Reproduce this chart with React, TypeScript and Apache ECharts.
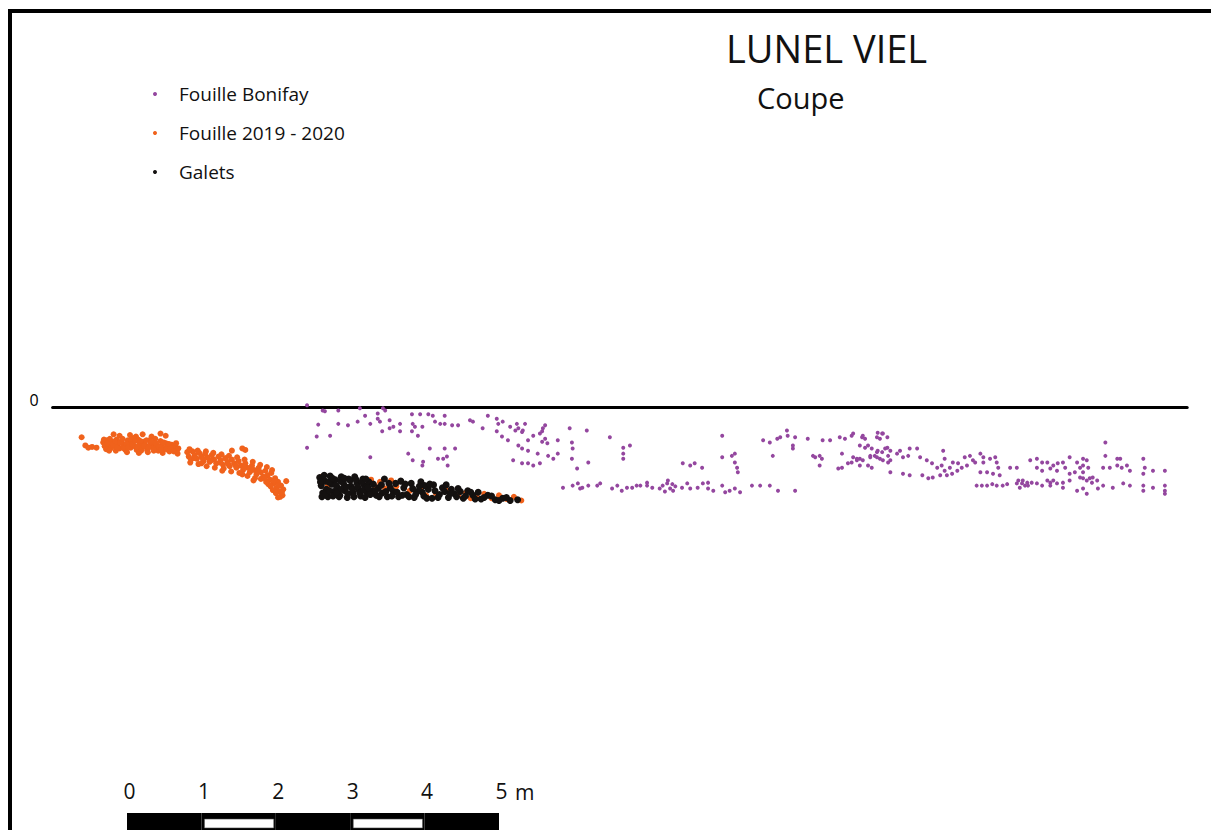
import React, { useEffect, useRef } from "react";
import * as echarts from "echarts";

const FONT = "'Open Sans', 'Noto Sans', sans-serif";

const seriesNames = ["Fouille Bonifay", "Fouille 2019 - 2020", "Galets"];
const seriesColors = ["#94479f", "#f0621c", "#141110"];

// x: horizontal distance (m), y: depth relative to datum 0 (m)
const bonifay: number[][] = [
  [2.42, 0.03], [2.66, -0.05], [2.84, -0.04], [2.63, -0.04], [3.13, -0.01], [3.47, -0.04],
  [2.57, -0.23], [2.84, -0.22], [2.97, -0.24], [3.10, -0.19], [3.20, -0.11], [3.27, -0.22],
  [3.37, -0.15], [3.40, -0.19], [3.37, -0.08], [3.44, -0.01], [3.53, -0.17], [3.53, -0.28],
  [3.58, -0.26], [3.43, -0.32], [3.67, -0.22], [3.67, -0.32], [3.83, -0.09], [3.94, -0.09],
  [4.05, -0.09], [4.11, -0.11], [4.27, -0.11], [3.84, -0.22], [3.87, -0.26], [3.97, -0.26],
  [3.83, -0.32], [3.91, -0.38], [4.14, -0.19], [4.21, -0.22], [4.27, -0.22], [4.37, -0.24],
  [4.45, -0.24], [2.55, -0.39], [2.73, -0.38], [2.42, -0.54], [3.27, -0.67], [3.78, -0.62],
  [3.84, -0.71], [3.98, -0.73], [4.07, -0.55], [3.97, -0.78], [4.18, -0.69], [4.25, -0.69],
  [4.30, -0.66], [4.27, -0.55], [4.41, -0.55], [4.31, -0.78], [4.61, -0.17], [4.65, -0.19],
  [4.78, -0.28], [4.85, -0.11], [4.97, -0.15], [5.05, -0.19], [4.99, -0.22], [4.97, -0.32],
  [5.04, -0.39], [5.12, -0.44], [5.15, -0.26], [5.22, -0.31], [5.26, -0.28], [5.35, -0.22],
  [5.24, -0.22], [5.32, -0.31], [5.31, -0.33], [5.26, -0.51], [5.31, -0.55], [5.39, -0.58],
  [5.39, -0.44], [5.46, -0.38], [5.55, -0.35], [5.59, -0.28], [5.62, -0.24], [5.58, -0.32],
  [5.58, -0.46], [5.62, -0.42], [5.65, -0.48], [5.19, -0.71], [5.31, -0.75], [5.39, -0.75],
  [5.46, -0.78], [5.55, -0.75], [5.52, -0.62], [5.66, -0.65], [5.73, -0.69], [5.79, -0.62],
  [5.79, -0.44], [5.86, -1.08], [5.99, -1.05], [6.09, -1.09], [5.95, -0.28], [6.18, -0.31],
  [5.98, -0.47], [6.05, -0.82], [5.99, -0.55], [5.98, -0.69], [6.20, -0.74], [6.49, -0.40],
  [6.67, -0.54], [6.76, -0.51], [6.67, -0.62], [6.67, -0.69], [6.06, -1.02], [6.12, -1.08],
  [6.20, -1.05], [6.32, -1.05], [6.36, -1.02], [6.52, -1.09], [6.59, -1.05], [6.65, -1.12],
  [6.72, -1.08], [6.79, -1.08], [6.85, -1.05], [6.90, -1.05], [6.99, -1.01], [6.99, -1.05],
  [7.06, -1.08], [7.16, -1.09], [7.20, -1.05], [7.26, -1.02], [7.30, -1.09], [7.34, -1.12],
  [7.23, -1.13], [7.37, -1.06], [7.27, -0.98], [7.33, -1.03], [7.46, -1.08], [7.53, -1.02],
  [7.57, -1.09], [7.67, -1.08], [7.74, -1.02], [7.81, -1.01], [7.81, -1.09], [7.88, -1.12],
  [8.00, -1.05], [8.04, -1.14], [8.10, -1.12], [8.17, -1.09], [8.24, -1.14], [8.40, -1.05],
  [8.51, -1.05], [8.64, -1.05], [8.75, -1.12], [8.98, -1.12], [7.47, -0.75], [7.57, -0.78],
  [7.63, -0.75], [7.73, -0.81], [8.00, -0.67], [8.13, -0.65], [8.17, -0.62], [8.17, -0.74],
  [8.20, -0.81], [8.21, -0.87], [8.00, -0.38], [8.55, -0.44], [8.64, -0.47], [8.74, -0.42],
  [8.78, -0.40], [8.87, -0.31], [8.88, -0.38], [8.98, -0.40], [8.95, -0.51], [8.95, -0.55],
  [8.68, -0.65], [9.15, -0.42], [9.35, -0.44], [9.45, -0.44], [9.58, -0.40], [9.65, -0.42],
  [9.74, -0.38], [9.76, -0.35], [9.88, -0.40], [9.92, -0.42], [10.08, -0.40], [10.12, -0.42],
  [10.15, -0.35], [10.22, -0.40], [9.22, -0.65], [9.25, -0.67], [9.31, -0.65], [9.34, -0.69],
  [9.31, -0.78], [9.61, -0.62], [9.76, -0.67], [9.85, -0.69], [9.56, -0.82], [9.61, -0.81],
  [9.69, -0.75], [9.74, -0.74], [9.81, -0.71], [9.85, -0.78], [9.96, -0.51], [10.01, -0.55],
  [10.09, -0.58], [10.05, -0.65], [10.15, -0.60], [10.19, -0.55], [10.23, -0.65], [9.99, -0.65],
  [10.12, -0.69], [10.26, -0.71], [9.96, -0.78], [10.01, -0.81], [9.89, -0.38], [10.09, -0.34],
  [10.16, -0.35], [9.85, -0.51], [9.92, -0.54], [10.08, -0.60], [10.22, -0.54], [10.26, -0.58],
  [10.35, -0.62], [10.39, -0.58], [9.81, -0.69], [9.89, -0.71], [9.99, -0.67], [10.08, -0.67],
  [10.16, -0.71], [10.23, -0.74], [10.43, -0.67], [10.50, -0.65], [10.52, -0.55], [10.62, -0.55],
  [10.66, -0.67], [10.26, -0.87], [10.43, -0.89], [10.52, -0.91], [10.75, -0.71], [10.82, -0.75],
  [10.89, -0.81], [10.95, -0.78], [10.99, -0.85], [11.06, -0.81], [11.10, -0.74], [11.17, -0.75],
  [11.16, -0.85], [11.09, -0.89], [11.02, -0.91], [10.93, -0.91], [10.83, -0.94], [10.77, -0.95],
  [10.69, -0.91], [10.97, -0.58], [10.99, -0.69], [11.26, -0.67], [11.33, -0.65], [11.37, -0.71],
  [11.47, -0.62], [11.51, -0.67], [11.60, -0.69], [11.22, -0.81], [11.29, -0.78], [11.40, -0.74],
  [11.51, -0.74], [11.67, -0.67], [11.69, -0.74], [11.71, -0.81], [11.47, -0.87], [11.56, -0.87],
  [11.64, -0.89], [11.73, -0.91], [11.87, -0.81], [11.96, -0.81], [12.14, -0.71], [12.23, -0.69],
  [12.30, -0.74], [12.37, -0.74], [12.45, -0.78], [12.51, -0.75], [12.58, -0.74], [12.23, -0.81],
  [12.30, -0.85], [12.41, -0.82], [12.50, -0.85], [12.61, -0.81], [12.67, -0.67], [12.77, -0.74],
  [12.85, -0.69], [12.85, -0.78], [12.85, -0.87], [12.90, -0.71], [12.92, -0.81], [12.81, -0.81],
  [12.67, -0.89], [12.74, -0.87], [11.42, -1.05], [11.49, -1.05], [11.56, -1.05], [11.63, -1.03],
  [11.69, -1.05], [11.77, -1.05], [11.83, -1.03], [11.96, -1.02], [11.98, -0.98], [12.03, -1.02],
  [12.04, -0.98], [12.10, -1.01], [12.00, -1.08], [12.07, -1.05], [12.11, -1.05], [12.16, -1.01],
  [12.23, -1.02], [12.30, -1.05], [12.37, -0.98], [12.41, -1.01], [12.45, -0.98], [12.50, -1.02],
  [12.41, -1.05], [12.58, -1.01], [12.67, -0.98], [12.58, -1.08], [12.77, -1.12], [12.85, -1.09],
  [12.90, -1.16], [12.81, -0.94], [12.85, -0.95], [12.90, -0.98], [12.94, -0.95], [12.97, -1.01],
  [12.98, -0.94], [13.04, -0.98], [13.15, -0.47], [13.15, -0.65], [13.31, -0.69], [13.35, -0.69],
  [13.12, -0.81], [13.21, -0.81], [13.31, -0.78], [13.37, -0.81], [13.44, -0.78], [13.48, -0.85],
  [13.66, -0.69], [13.68, -0.81], [13.66, -0.89], [13.79, -0.85], [13.95, -0.85], [13.25, -1.08],
  [13.39, -1.02], [13.48, -1.05], [13.66, -1.05], [13.66, -1.12], [13.79, -1.08], [13.95, -1.05],
  [13.95, -1.12], [13.95, -1.16], [13.12, -1.05], [13.05, -1.09]
];

const fouille2019: number[][] = [
  // first cluster
  [-0.61, -0.40], [-0.56, -0.51], [-0.52, -0.54], [-0.47, -0.53], [-0.41, -0.54],
  [-0.18, -0.36], [-0.10, -0.38], [0.04, -0.37], [0.12, -0.39], [0.21, -0.36], [0.33, -0.39],
  [0.45, -0.35], [0.52, -0.38],
  [-0.32, -0.47], [-0.30, -0.52], [-0.27, -0.44], [-0.25, -0.50], [-0.22, -0.55], [-0.20, -0.46],
  [-0.17, -0.52], [-0.14, -0.43], [-0.12, -0.49], [-0.10, -0.55], [-0.07, -0.45], [-0.05, -0.51],
  [-0.02, -0.57], [0.01, -0.44], [0.03, -0.49], [0.05, -0.54], [0.08, -0.46], [0.10, -0.52],
  [0.13, -0.57], [0.15, -0.43], [0.17, -0.49], [0.20, -0.54], [0.22, -0.46], [0.25, -0.51],
  [0.27, -0.57], [0.30, -0.44], [0.32, -0.49], [0.35, -0.54], [0.37, -0.47], [0.40, -0.52],
  [0.42, -0.58], [0.45, -0.45], [0.47, -0.50], [0.50, -0.55], [0.52, -0.48], [0.55, -0.53],
  [0.57, -0.59], [0.60, -0.50], [0.62, -0.55], [0.65, -0.52], [0.67, -0.58], [0.69, -0.55],
  [-0.15, -0.58], [0.28, -0.60], [0.48, -0.61], [-0.28, -0.56], [0.09, -0.41], [0.38, -0.42],
  [-0.31, -0.43], [-0.26, -0.48], [-0.23, -0.42], [-0.19, -0.50], [-0.16, -0.45], [-0.13, -0.54],
  [-0.09, -0.47], [-0.06, -0.42], [-0.04, -0.55], [-0.01, -0.49], [0.02, -0.53], [0.06, -0.43],
  [0.07, -0.50], [0.11, -0.45], [0.14, -0.53], [0.18, -0.45], [0.19, -0.58], [0.23, -0.52],
  [0.26, -0.44], [0.29, -0.54], [0.33, -0.46], [0.36, -0.58], [0.39, -0.48], [0.43, -0.53],
  [0.46, -0.57], [0.49, -0.47], [0.53, -0.56], [0.56, -0.49], [0.59, -0.55], [0.63, -0.59],
  [0.66, -0.48], [0.68, -0.62], [-0.24, -0.58], [0.00, -0.60], [0.16, -0.61],
  // second cluster
  [0.81, -0.60], [0.83, -0.66], [0.86, -0.70], [0.88, -0.59], [0.91, -0.64], [0.94, -0.69],
  [0.97, -0.61], [1.00, -0.66], [1.03, -0.72], [1.05, -0.62], [1.08, -0.67], [1.11, -0.73],
  [1.14, -0.64], [1.17, -0.70], [1.20, -0.75], [1.23, -0.66], [1.26, -0.71], [1.29, -0.77],
  [1.32, -0.68], [1.35, -0.73], [1.38, -0.79], [1.41, -0.70], [1.44, -0.75], [1.47, -0.81],
  [1.50, -0.72], [1.53, -0.78], [1.56, -0.84], [1.59, -0.75], [1.62, -0.81], [1.65, -0.87],
  [1.68, -0.78], [1.71, -0.84], [1.74, -0.90], [1.77, -0.81], [1.80, -0.87], [1.83, -0.93],
  [1.86, -0.85], [1.89, -0.91], [1.92, -0.97], [1.94, -0.88], [1.97, -1.02], [1.99, -0.95],
  [2.01, -1.08], [2.03, -1.00], [2.05, -1.13], [2.07, -1.05], [2.09, -1.18], [2.10, -1.10],
  [2.06, -1.20], [1.96, -1.11], [1.90, -1.03], [1.72, -0.95], [1.55, -0.90], [1.30, -0.82],
  [1.00, -0.75], [1.41, -0.58], [1.55, -0.55], [1.59, -0.57], [2.14, -0.99],
  [0.84, -0.56], [0.95, -0.58], [1.06, -0.59], [1.16, -0.61], [1.27, -0.63], [1.37, -0.65],
  [1.48, -0.67], [1.58, -0.70], [1.69, -0.73], [1.79, -0.77], [1.88, -0.80], [1.95, -0.84],
  [0.85, -0.74], [0.96, -0.76], [1.07, -0.79], [1.18, -0.81], [1.28, -0.85], [1.40, -0.86],
  [1.51, -0.88], [1.62, -0.92], [1.70, -0.98], [1.80, -0.96], [1.87, -1.00], [1.93, -1.06],
  [2.00, -1.15], [2.03, -1.21],
  [0.90, -0.68], [1.02, -0.69], [1.13, -0.71], [1.25, -0.74], [1.36, -0.76], [1.46, -0.78],
  [1.57, -0.80], [1.67, -0.84], [1.76, -0.86], [1.85, -0.95], [1.98, -0.98], [2.04, -1.05],
  [2.08, -1.14],
  // mixed with the pebbles
  [2.62, -0.93], [2.70, -1.05], [3.28, -0.97], [3.33, -1.05], [3.40, -1.00], [3.47, -1.09],
  [3.55, -0.98], [3.62, -1.06], [3.80, -1.12], [3.95, -1.08], [4.15, -1.15], [4.30, -1.12],
  [4.45, -1.18], [4.55, -1.15], [4.70, -1.20], [4.80, -1.16], [4.90, -1.22], [5.00, -1.18],
  [5.10, -1.23], [5.20, -1.20], [5.30, -1.25], [4.62, -1.22], [4.02, -1.18]
];

const galets: number[][] = [
  [2.59, -0.94], [2.61, -1.05], [2.63, -1.15], [2.66, -0.99], [2.68, -1.10], [2.70, -1.20],
  [2.73, -0.92], [2.75, -1.03], [2.78, -1.13], [2.80, -0.97], [2.83, -1.08], [2.86, -1.18],
  [2.88, -0.93], [2.91, -1.02], [2.93, -1.12], [2.96, -1.21], [2.98, -0.96], [3.01, -1.06],
  [3.04, -1.15], [3.06, -0.93], [3.09, -1.01], [3.11, -1.10], [3.14, -1.19], [3.17, -0.96],
  [3.19, -1.05], [3.22, -1.14], [3.25, -1.00], [3.30, -1.12], [3.35, -1.18], [3.38, -1.08],
  [3.43, -1.15], [3.50, -1.20], [3.52, -1.02], [3.58, -1.13], [3.65, -1.20], [3.68, -0.99],
  [3.72, -1.08], [3.76, -1.17], [3.82, -1.02], [3.86, -1.21], [3.90, -1.13], [3.95, -1.00],
  [3.99, -1.19], [4.05, -1.10], [4.10, -1.22], [4.12, -1.04], [4.20, -1.17], [4.24, -1.08],
  [4.32, -1.21], [4.36, -1.10], [4.40, -1.16], [4.48, -1.13], [4.52, -1.22], [4.58, -1.12],
  [4.65, -1.18], [4.72, -1.14], [4.76, -1.23], [4.85, -1.18], [4.95, -1.24], [5.05, -1.22],
  [5.15, -1.25], [5.25, -1.24], [3.46, -0.96], [3.20, -1.21], [2.85, -1.20], [4.00, -1.05],
  [2.60, -1.00], [2.62, -1.20], [2.65, -0.91], [2.67, -1.16], [2.71, -1.00], [2.72, -1.12],
  [2.76, -0.95], [2.77, -1.19], [2.81, -1.05], [2.82, -1.14], [2.87, -0.99], [2.89, -1.10],
  [2.92, -0.95], [2.95, -1.07], [2.97, -1.16], [3.00, -0.98], [3.03, -1.10], [3.05, -1.20],
  [3.08, -0.97], [3.10, -1.06], [3.13, -1.15], [3.16, -1.00], [3.18, -1.11], [3.21, -0.96],
  [3.24, -1.08], [3.27, -1.17], [3.31, -1.03], [3.34, -1.12], [3.39, -1.20], [3.42, -1.04],
  [3.48, -1.13], [3.54, -1.08], [3.56, -1.19], [3.61, -1.02], [3.63, -1.14], [3.70, -1.18],
  [3.74, -1.03], [3.79, -1.20], [3.84, -1.09], [3.88, -1.17], [3.93, -1.06], [3.97, -1.14],
  [4.03, -1.22], [4.07, -1.03], [4.14, -1.12], [4.18, -1.21], [4.27, -1.13], [4.29, -1.04],
  [4.34, -1.16], [4.43, -1.20], [4.45, -1.09], [4.55, -1.19], [4.62, -1.14], [4.68, -1.23],
  [4.80, -1.21], [4.90, -1.19], [5.00, -1.25], [5.10, -1.21]
];

// scale bar: metre segments [from, to, hollow?]
const scaleSegments: number[][] = [
  [0, 1, 0], [1, 2, 1], [2, 3, 0], [3, 4, 1], [4, 5, 0]
];
const scaleTicks = [0, 1, 2, 3, 4, 5];

const X_MIN = -1;
const X_MAX = 14.25;
const Y_MIN = -1.5;
const Y_MAX = 0.2;
const PX_PER_M = 74.4;

// legend marker: small dot sitting low, like a full stop
const LEGEND_DOT = "path://M0,0 L0.01,0 M1,11 A1.5,1.5 0 1,0 1,10.99 Z";

export default function App() {
  const ref = useRef<HTMLDivElement>(null);

  useEffect(() => {
    if (!ref.current) return;
    const chart = echarts.init(ref.current, undefined, { renderer: "svg" });

    const gridLeft = 127 + X_MIN * PX_PER_M;
    const gridWidth = (X_MAX - X_MIN) * PX_PER_M;
    const gridHeight = (Y_MAX - Y_MIN) * PX_PER_M;
    const gridTop = 407.5 - Y_MAX * PX_PER_M;

    const option: any = {
      animation: false,
      backgroundColor: "#ffffff",
      textStyle: { fontFamily: FONT },
      title: [
        {
          text: "LUNEL VIEL",
          left: 721,
          top: 24,
          textStyle: { fontSize: 38, fontWeight: "normal", color: "#111", fontFamily: FONT }
        },
        {
          text: "Coupe",
          left: 752,
          top: 78,
          textStyle: { fontSize: 29, fontWeight: "normal", color: "#111", fontFamily: FONT }
        }
      ],
      legend: {
        orient: "vertical",
        left: 148,
        top: 73,
        itemWidth: 4,
        itemHeight: 14,
        itemGap: 7,
        data: seriesNames,
        textStyle: {
          fontSize: 19,
          lineHeight: 20,
          color: "#111",
          fontFamily: FONT,
          padding: [0, 0, 12, 17]
        }
      },
      grid: [
        { left: gridLeft, top: gridTop, width: gridWidth, height: gridHeight },
        { left: 127, top: 813, width: 5 * PX_PER_M, height: 17 }
      ],
      xAxis: [
        {
          type: "value",
          gridIndex: 0,
          min: X_MIN,
          max: X_MAX,
          axisLine: { show: true, onZero: true, lineStyle: { color: "#000", width: 3 } },
          axisTick: { show: false },
          axisLabel: { show: false },
          splitLine: { show: false }
        },
        {
          type: "value",
          gridIndex: 1,
          min: 0,
          max: 5,
          interval: 1,
          position: "top",
          axisLine: { show: false },
          axisTick: { show: false },
          splitLine: { show: false },
          axisLabel: {
            show: true,
            fontSize: 21,
            color: "#111",
            margin: 12,
            fontFamily: FONT,
            padding: [0, 0, 0, 5],
            formatter: (v: number) => (scaleTicks.indexOf(v) >= 0 ? String(v) : "")
          }
        }
      ],
      yAxis: [
        {
          type: "value",
          gridIndex: 0,
          min: Y_MIN,
          max: Y_MAX,
          interval: 0.5,
          axisLine: { show: false },
          axisTick: { show: false },
          splitLine: { show: false },
          axisLabel: {
            show: true,
            fontSize: 16,
            color: "#000",
            margin: 14,
            fontFamily: FONT,
            verticalAlign: "bottom",
            formatter: (v: number) => (Math.abs(v) < 1e-9 ? "0" : "")
          }
        },
        {
          type: "value",
          gridIndex: 1,
          min: 0,
          max: 1,
          show: false
        }
      ],
      graphic: [
        { type: "rect", shape: { x: 8, y: 9, width: 1203, height: 4 }, style: { fill: "#000" } },
        { type: "rect", shape: { x: 8, y: 9, width: 4, height: 821 }, style: { fill: "#000" } },
        {
          type: "text",
          x: 515,
          y: 792,
          style: {
            text: "m",
            fontSize: 21,
            fontFamily: FONT,
            fill: "#111",
            verticalAlign: "middle"
          }
        }
      ],
      series: [
        {
          name: seriesNames[0],
          type: "scatter",
          data: bonifay,
          symbolSize: 4,
          legendIcon: LEGEND_DOT,
          itemStyle: { color: seriesColors[0], opacity: 1 },
          clip: false
        },
        {
          name: seriesNames[1],
          type: "scatter",
          data: fouille2019,
          symbolSize: 6,
          legendIcon: LEGEND_DOT,
          itemStyle: { color: seriesColors[1], opacity: 1 },
          clip: false
        },
        {
          name: seriesNames[2],
          type: "scatter",
          data: galets,
          symbolSize: 7,
          legendIcon: LEGEND_DOT,
          itemStyle: { color: seriesColors[2], opacity: 1 },
          clip: false
        },
        {
          type: "custom",
          name: "scale",
          xAxisIndex: 1,
          yAxisIndex: 1,
          data: scaleSegments,
          silent: true,
          renderItem: (params: any, api: any) => {
            const p0 = api.coord([api.value(0), 1]);
            const p1 = api.coord([api.value(1), 0]);
            const children: any[] = [
              {
                type: "rect",
                shape: { x: p0[0], y: p0[1], width: p1[0] - p0[0], height: p1[1] - p0[1] },
                style: { fill: "#000" }
              }
            ];
            if (api.value(2) === 1) {
              children.push({
                type: "rect",
                shape: {
                  x: p0[0] + 3,
                  y: p0[1] + 6,
                  width: p1[0] - p0[0] - 5,
                  height: p1[1] - p0[1] - 8
                },
                style: { fill: "#fff", stroke: "#444", lineWidth: 0.6 }
              });
            }
            return { type: "group", children };
          }
        }
      ]
    };

    chart.setOption(option);
    return () => chart.dispose();
  }, []);

  return (
    <div
      ref={ref}
      style={{ position: "absolute", left: 0, top: 0, width: 1211, height: 830, background: "#fff" }}
    />
  );
}
